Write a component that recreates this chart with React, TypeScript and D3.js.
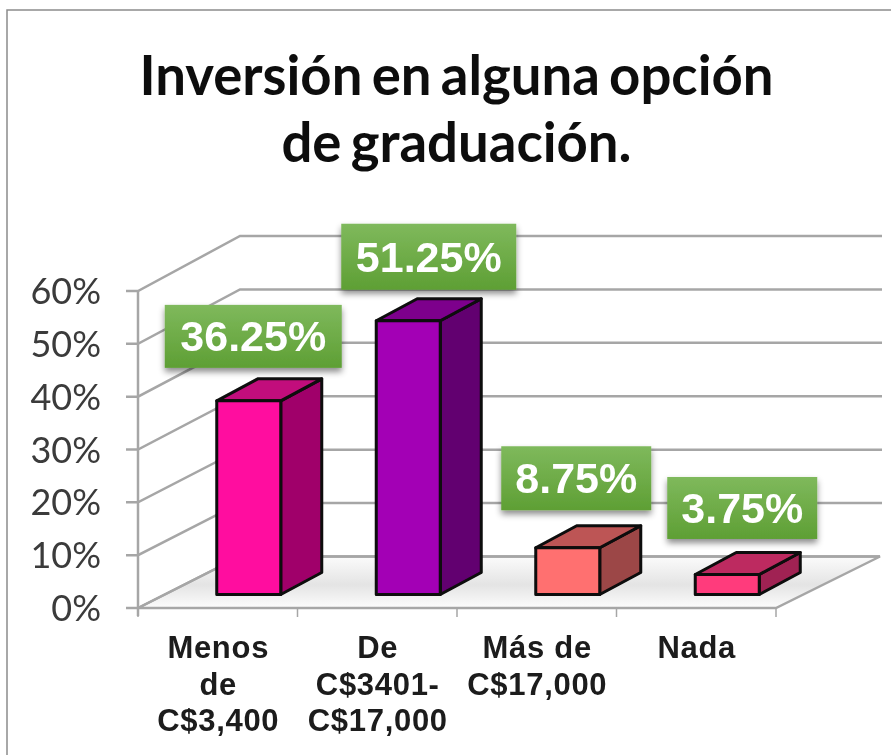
import React from "react";
import * as d3 from "d3";

const categories = [["Menos", "de", "C$3,400"], ["De", "C$3401-", "C$17,000"], ["Más de", "C$17,000"], ["Nada"]];
const values = [36.25, 51.25, 8.75, 3.75];
const valueLabels = ["36.25%", "51.25%", "8.75%", "3.75%"];
const frontColors = ["#ff0f9f", "#a303b5", "#ff7070", "#ff3a7c"];
const topColors = ["#c2087c", "#7d028c", "#bd5555", "#bd2b60"];
const sideColors = ["#a0066a", "#620070", "#9c4646", "#a02352"];
const yTicks = [0, 10, 20, 30, 40, 50, 60];
const titleLines = ["Inversión en alguna opción", "de graduación."];

const W = 891, H = 755;
const x0 = 138, x1 = 776, yBase = 608, yTop = 291;
const wallDx = 102, backRight = 882;
const barBase = 594.5, barDx = 41, barDy = -22, barW = 64;
const labelDx = [4.5, 20.5, 8.5, 15], labelBottomGap = [-33, -31, -37.5, -35.5], labelW = [177, 175, 150, 150], labelH = [63, 66, 64, 62];

const x = d3.scaleBand<number>().domain(d3.range(4)).range([x0, x1]);
const y = d3.scaleLinear().domain([0, 60]).range([yBase, yTop]);
const yBack = d3.scaleLinear().domain([0, 60]).range([556.5, 236]);
const h = (v: number) => yBack(0) - yBack(v);

function poly(pts: [number, number][]) { return d3.line()(pts) + "Z"; }

export default function App() {
  const grid = "#a6a6a6";
  return (
    <svg width={W} height={H} style={{ position: "absolute", left: 0, top: 0, background: "#fff" }}
      fontFamily="'Liberation Sans'">
      <defs>
        <linearGradient id="lab" x1="0" y1="0" x2="0" y2="1">
          <stop offset="0" stopColor="#7fb95c" />
          <stop offset="1" stopColor="#5e9f34" />
        </linearGradient>
        <linearGradient id="floor" x1="0" y1="0" x2="0" y2="1">
          <stop offset="0" stopColor="#fbfbfb" />
          <stop offset="0.55" stopColor="#e4e4e4" />
          <stop offset="1" stopColor="#fcfcfc" />
        </linearGradient>
        <filter id="soft" x="-5%" y="-5%" width="110%" height="110%"><feGaussianBlur stdDeviation="0.7" /></filter>
        <filter id="shadow" x="-10%" y="-10%" width="120%" height="130%"><feDropShadow dx="0" dy="4" stdDeviation="3" floodColor="#000" floodOpacity="0.45" /></filter>
      </defs>
      <path d="M891,10 L7,10 L7,755" fill="none" stroke="#8c8c8c" strokeWidth={1.5} />
      <g filter="url(#soft)">
        <g fontFamily="Lato" fontWeight={700} fontSize={54.5} wordSpacing={-4} fill="#111" textAnchor="middle">
          {titleLines.map((t, i) => <text key={t} x={456.5} y={95 + i * 66.5}>{t}</text>)}
        </g>
        <path d={poly([[x0, yBase], [x0 + wallDx, yBack(0)], [880, yBack(0)], [x1, yBase]])} fill="url(#floor)" stroke={grid} strokeWidth={2.5} />
        {yTicks.map(t => (
          <g key={t}>
            <path d={d3.line()([[x0 - 12, y(t)], [x0, y(t)], [x0 + wallDx, yBack(t)], [t === 0 ? 880 : backRight, yBack(t)]])!} fill="none" stroke={grid} strokeWidth={2.5} />
            <text x={101} y={y(t) + 13} textAnchor="end" fontFamily="Lato" fontSize={36} fill="#3a3a3a">{t}%</text>
          </g>
        ))}
        <line x1={x0} x2={x0} y1={yTop} y2={yBase + 8} stroke={grid} strokeWidth={2.5} />
        {d3.range(5).map(i => {
          const px = i < 4 ? x(i)! : x1;
          return <line key={i} x1={px} x2={px} y1={yBase} y2={yBase + 9} stroke={grid} strokeWidth={1.5} />;
        })}
        {values.map((v, i) => {
          const l = x(i)! + x.bandwidth() / 2 + 31 - barW / 2;
          const r = l + barW, t = barBase - h(v);
          return (
            <g key={i} stroke="#0a0a0a" strokeWidth={3} strokeLinejoin="round">
              <path d={poly([[r, t], [r + barDx, t + barDy], [r + barDx, barBase + barDy], [r, barBase]])} fill={sideColors[i]} />
              <path d={poly([[l, t], [l + barDx, t + barDy], [r + barDx, t + barDy], [r, t]])} fill={topColors[i]} />
              <rect x={l} y={t} width={barW} height={barBase - t} fill={frontColors[i]} />
            </g>
          );
        })}
        {categories.map((lines, i) => (
          <g key={i} fontWeight={700} fontSize={31} letterSpacing={0.7} fill="#1a1a1a" textAnchor="middle">
            {lines.map((s, j) => <text key={j} x={x(i)! + x.bandwidth() / 2 + 0.5} y={658 + j * 36.5}>{s}</text>)}
          </g>
        ))}
        {values.map((v, i) => {
          const cx = x(i)! + x.bandwidth() / 2 + 31 + labelDx[i];
          const bottom = barBase - h(v) + labelBottomGap[i];
          return (
            <g key={i}>
              <rect x={cx - labelW[i] / 2} y={bottom - labelH[i]} width={labelW[i]} height={labelH[i]} fill="url(#lab)" filter="url(#shadow)" />
              <text x={cx} y={bottom - labelH[i] / 2 + 15} textAnchor="middle" fontWeight={700} fontSize={43} fill="#fff">{valueLabels[i]}</text>
            </g>
          );
        })}
      </g>
    </svg>
  );
}
